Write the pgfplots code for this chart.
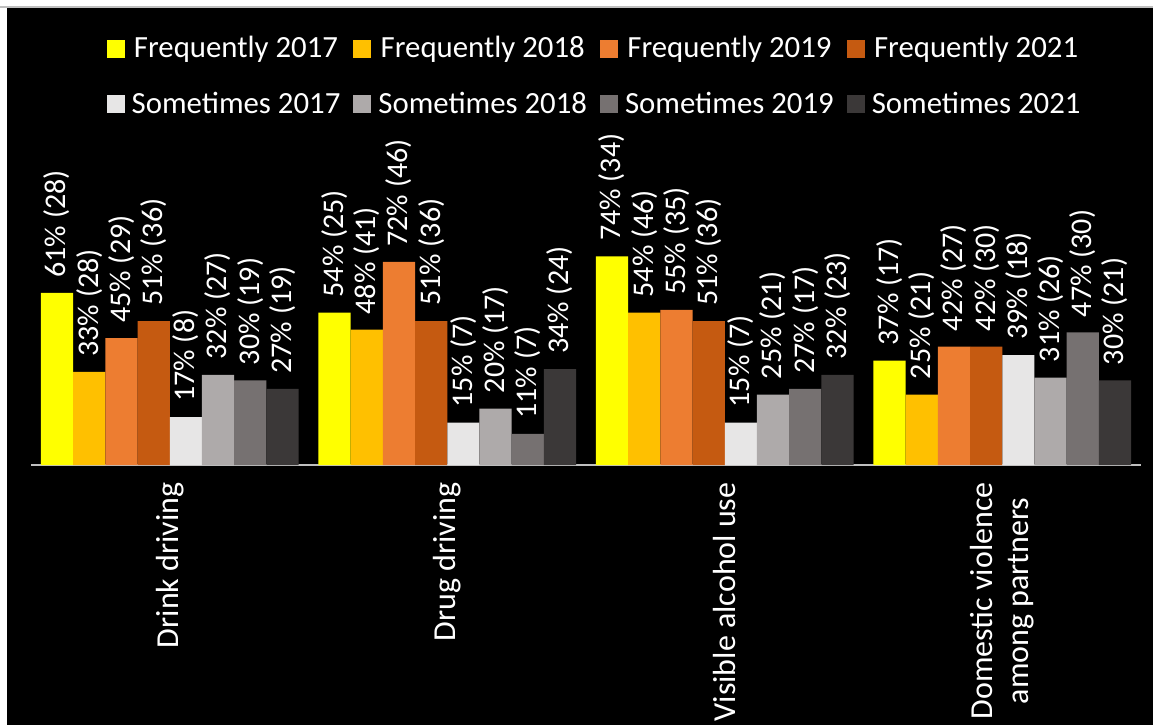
\documentclass[border=0pt]{standalone}
\usepackage{fontspec}
\setmainfont{Carlito}
\usepackage{pgfplots}
\pgfplotsset{compat=1.18}
\definecolor{fA}{HTML}{FFFF00}
\definecolor{fB}{HTML}{FFC000}
\definecolor{fC}{HTML}{ED7D31}
\definecolor{fD}{HTML}{C55A11}
\definecolor{sA}{HTML}{E7E6E6}
\definecolor{sB}{HTML}{AEAAAA}
\definecolor{sC}{HTML}{767171}
\definecolor{sD}{HTML}{3B3838}
\begin{document}
\begin{tikzpicture}[font=\fontsize{15}{18}\selectfont]
\fill[white] (0,0) rectangle (576.5pt,362.5pt);
\draw[gray!50, line width=0.6pt] (0,359pt) -- (576.5pt,359pt);
\fill[black] (3.5pt,0) rectangle (576.5pt,358.5pt);
\begin{axis}[
    at={(15.5pt,130pt)}, anchor=south west,
    scale only axis, width=555pt, height=141pt,
    xmin=-0.5, xmax=3.5, ymin=0, ymax=100,
    ybar=0pt, bar width=16.1pt,
    axis y line=none,
    axis x line*=bottom,
    x axis line style={draw=black!25, line width=1pt},
    xtick={0,1,2,3},
    xticklabels={Drink driving, Drug driving, Visible alcohol use, {Domestic violence\\among partners}},
    xticklabel style={rotate=90, anchor=east, align=center, text=white, inner xsep=8.5pt,
        font=\fontsize{16}{18}\selectfont},
    major tick length=0pt,
    clip=false,
    nodes near coords,
    point meta=explicit symbolic,
    every node near coord/.append style={rotate=90, anchor=west, text=white, inner xsep=7.5pt},
    legend columns=4,
    legend style={at={(0.51,1.378)}, anchor=center, draw=none, fill=none, text=white,
        font=\fontsize{15.4}{18}\selectfont,
        nodes={inner xsep=3.5pt},
        /tikz/every odd column/.append style={column sep=0pt},
        /tikz/every even column/.append style={column sep=3pt},
        row sep=11.5pt},
    legend image code/.code={\fill[#1] (0pt,-4.5pt) rectangle (9pt,4.5pt);},
]
\addplot[fill=fA, draw=none] coordinates {(0,61) [{61\% (28)}] (1,54) [{54\% (25)}] (2,74) [{74\% (34)}] (3,37) [{37\% (17)}]};
\addplot[fill=fB, draw=none] coordinates {(0,33) [{33\% (28)}] (1,48) [{48\% (41)}] (2,54) [{54\% (46)}] (3,25) [{25\% (21)}]};
\addplot[fill=fC, draw=none] coordinates {(0,45) [{45\% (29)}] (1,72) [{72\% (46)}] (2,55) [{55\% (35)}] (3,42) [{42\% (27)}]};
\addplot[fill=fD, draw=none] coordinates {(0,51) [{51\% (36)}] (1,51) [{51\% (36)}] (2,51) [{51\% (36)}] (3,42) [{42\% (30)}]};
\addplot[fill=sA, draw=none] coordinates {(0,17) [{17\% (8)}] (1,15) [{15\% (7)}] (2,15) [{15\% (7)}] (3,39) [{39\% (18)}]};
\addplot[fill=sB, draw=none] coordinates {(0,32) [{32\% (27)}] (1,20) [{20\% (17)}] (2,25) [{25\% (21)}] (3,31) [{31\% (26)}]};
\addplot[fill=sC, draw=none] coordinates {(0,30) [{30\% (19)}] (1,11) [{11\% (7)}] (2,27) [{27\% (17)}] (3,47) [{47\% (30)}]};
\addplot[fill=sD, draw=none] coordinates {(0,27) [{27\% (19)}] (1,34) [{34\% (24)}] (2,32) [{32\% (23)}] (3,30) [{30\% (21)}]};
\legend{Frequently 2017, Frequently 2018, Frequently 2019, Frequently 2021, Sometimes 2017, Sometimes 2018, Sometimes 2019, Sometimes 2021}
\end{axis}
\pgfresetboundingbox
\useasboundingbox (0,0) rectangle (576.5pt,362.5pt);
\end{tikzpicture}
\end{document}
